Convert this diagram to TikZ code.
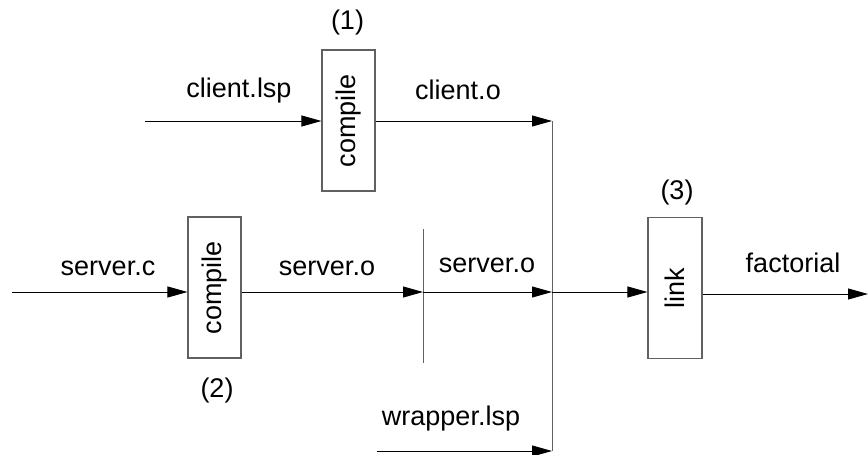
\documentclass[tikz,border=0pt]{standalone}
\usepackage{fontspec}
\setmainfont{Liberation Sans}
\usetikzlibrary{arrows.meta}
\definecolor{boxgray}{gray}{0.38}
\tikzset{
  procbox/.style={draw=boxgray, line width=1.1pt, minimum width=53pt, minimum height=141pt, inner sep=0pt},
  boxtext/.style={rotate=90, inner sep=0pt},
  lbl/.style={anchor=base, inner sep=0pt},
  tag/.style={inner sep=0pt},
  flow/.style={line width=0.9pt, -{Triangle[length=20pt, width=11pt]}},
  bar/.style={line width=1pt, draw=boxgray}
}
\begin{document}
\begin{tikzpicture}[x=1pt, y=-1pt, font=\fontsize{27}{32}\selectfont]
\useasboundingbox (0,0) rectangle (868,455);

% processing steps
\node[procbox] (c1) at (348.5,120.5) {};
\node[boxtext] (c1t) at (c1) {compile};
\node[procbox] (c2) at (214.5,287.5) {};
\node[boxtext] (c2t) at (c2) {compile};
\node[procbox, minimum width=54pt] (lk) at (675,288) {};
\node[boxtext] (lkt) at (lk) {link};

% step numbers
\node[tag] (n1) at (347.5,23) {(1)};
\node[tag] (n2) at (217,391) {(2)};
\node[tag] (n3) at (677,193) {(3)};

% junction points
\coordinate (clin) at (145,121);
\coordinate (vtop) at (552,121);
\coordinate (vmid) at (552,292);
\coordinate (vbot) at (552,451);
\coordinate (scin) at (12,292);
\coordinate (stop) at (423,229);
\coordinate (sbot) at (423,363);
\coordinate (smid) at (423,292);
\coordinate (wrin) at (377,451);
\coordinate (fout) at (868,294);

% collecting bars
\draw[bar] (vtop) -- (vbot);
\draw[bar] (stop) -- (sbot);

% data flow
\draw[flow] (clin) -- (clin -| c1.west);
\draw[flow] (vtop -| c1.east) -- (vtop);
\draw[flow] (scin) -- (scin -| c2.west);
\draw[flow] (smid -| c2.east) -- (smid);
\draw[flow] (smid) -- (vmid);
\draw[flow] (vmid) -- (vmid -| lk.west);
\draw[flow] (fout -| lk.east) -- (fout);
\draw[flow] (wrin) -- (vbot);

% file names
\node[lbl] (l1) at (239,97) {client.lsp};
\node[lbl] (l2) at (458,99) {client.o};
\node[lbl] (l3) at (108,275) {server.c};
\node[lbl] (l4) at (327,275) {server.o};
\node[lbl] (l5) at (487,272) {server.o};
\node[lbl] (l6) at (793,272) {factorial};
\node[lbl] (l7) at (451,425) {wrapper.lsp};
\end{tikzpicture}
\end{document}
